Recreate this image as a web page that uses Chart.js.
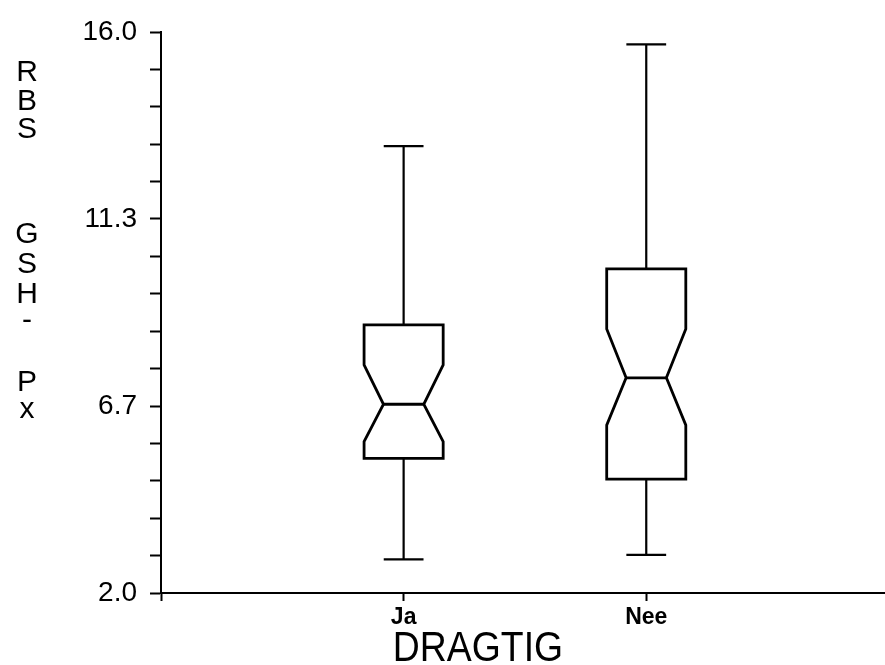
<!DOCTYPE html>
<html>
<head>
<meta charset="utf-8">
<script src="https://cdn.jsdelivr.net/npm/chart.js@4.4.1/dist/chart.umd.min.js"></script>
<style>
  html, body { margin: 0; padding: 0; background: #fff; }
  canvas { display: block; }
</style>
</head>
<body>
<canvas id="chart" width="885" height="665"></canvas>
<script>
//categories on the x axis
const categories = ['Ja', 'Nee'];

//box plot statistics (one value per category)
const whiskerHigh = [13.15, 15.69];
const q3 = [8.69, 10.09];
const notchHigh = [7.69, 8.59];
const median = [6.71, 7.37];
const notchLow = [5.78, 6.19];
const q1 = [5.36, 4.84];
const whiskerLow = [2.84, 2.95];

//y axis range and labelled ticks
const yMin = 2.0;
const yMax = 16.0;
const yLabels = ['2.0', '6.7', '11.3', '16.0'];
const minorPerLabel = 5;

//axis titles
const xTitle = 'DRAGTIG';
const yTitleLetters = ['R', 'B', 'S', 'G', 'S', 'H', '-', 'P', 'x'];

const FONT = "'Liberation Sans', Arial, Helvetica, sans-serif";

//draws notched boxes + whiskers through the chart scales
const boxPlugin = {
  id: 'notchedBoxes',
  afterDatasetsDraw(chart) {
    const ctx = chart.ctx;
    const xs = chart.scales.x;
    const ys = chart.scales.y;
    const boxHalf = 0.163;   //half box width in x units
    const notchHalf = 0.083; //half width at the median notch
    const capHalf = 0.082;   //half whisker cap width

    ctx.save();
    ctx.strokeStyle = '#000';
    ctx.lineJoin = 'miter';
    categories.forEach((cat, i) => {
      const L = xs.getPixelForValue(i - boxHalf);
      const R = xs.getPixelForValue(i + boxHalf);
      const Li = xs.getPixelForValue(i - notchHalf);
      const Ri = xs.getPixelForValue(i + notchHalf);
      const C = xs.getPixelForValue(i);
      const yQ3 = ys.getPixelForValue(q3[i]);
      const yQ1 = ys.getPixelForValue(q1[i]);
      const yNH = ys.getPixelForValue(notchHigh[i]);
      const yNL = ys.getPixelForValue(notchLow[i]);
      const yMed = ys.getPixelForValue(median[i]);
      const yHi = ys.getPixelForValue(whiskerHigh[i]);
      const yLo = ys.getPixelForValue(whiskerLow[i]);

      //whiskers
      ctx.lineWidth = 2.2;
      ctx.beginPath();
      ctx.moveTo(C, yQ3); ctx.lineTo(C, yHi);
      ctx.moveTo(C, yQ1); ctx.lineTo(C, yLo);
      ctx.moveTo(xs.getPixelForValue(i - capHalf), yHi);
      ctx.lineTo(xs.getPixelForValue(i + capHalf), yHi);
      ctx.moveTo(xs.getPixelForValue(i - capHalf), yLo);
      ctx.lineTo(xs.getPixelForValue(i + capHalf), yLo);
      ctx.stroke();

      //notched box outline
      ctx.lineWidth = 2.8;
      ctx.beginPath();
      ctx.moveTo(L, yQ3);
      ctx.lineTo(R, yQ3);
      ctx.lineTo(R, yNH);
      ctx.lineTo(Ri, yMed);
      ctx.lineTo(R, yNL);
      ctx.lineTo(R, yQ1);
      ctx.lineTo(L, yQ1);
      ctx.lineTo(L, yNL);
      ctx.lineTo(Li, yMed);
      ctx.lineTo(L, yNH);
      ctx.closePath();
      ctx.stroke();

      //median line
      ctx.beginPath();
      ctx.moveTo(Li, yMed);
      ctx.lineTo(Ri, yMed);
      ctx.stroke();
    });
    ctx.restore();
  },
  afterDraw(chart) {
    const ctx = chart.ctx;
    ctx.save();
    ctx.fillStyle = '#000';

    //stacked vertical y title
    const letterY = [70, 99, 127, 232, 262, 292, 320, 380, 410];
    ctx.font = `30px ${FONT}`;
    ctx.textAlign = 'center';
    ctx.textBaseline = 'alphabetic';
    yTitleLetters.forEach((ch, i) => {
      let base = letterY[i] + 11;
      if (ch === '-') base = letterY[i] + 9;
      if (ch === 'x') base = letterY[i] + 8;
      ctx.fillText(ch, 27, base);
    });

    //x title, slightly condensed like the original
    ctx.translate(478, 661);
    ctx.scale(0.89, 1);
    ctx.font = `42px ${FONT}`;
    ctx.fillText(xTitle, 0, 0);
    ctx.restore();
  }
};

const step = (yMax - yMin) / ((yLabels.length - 1) * minorPerLabel);

new Chart(document.getElementById('chart').getContext('2d'), {
  type: 'scatter',
  data: {
    datasets: [{
      data: categories.map((c, i) => ({ x: i, y: median[i] })),
      pointRadius: 0,
      showLine: false
    }]
  },
  options: {
    responsive: false,
    animation: false,
    layout: { padding: { left: 0, right: 0, top: 32, bottom: 0 } },
    plugins: {
      legend: { display: false },
      tooltip: { enabled: false }
    },
    scales: {
      x: {
        type: 'linear',
        min: -1,
        max: 1.984,
        afterBuildTicks: (scale) => {
          scale.ticks = [-1, 0, 1].map(v => ({ value: v }));
        },
        afterFit: (scale) => { scale.height = 72; },
        border: { display: true, color: '#000', width: 2 },
        grid: {
          display: true,
          drawOnChartArea: false,
          drawTicks: true,
          tickLength: 8,
          tickWidth: 2,
          color: '#000'
        },
        ticks: {
          autoSkip: false,
          maxRotation: 0,
          padding: 3,
          color: '#000',
          font: { family: FONT, size: 23, weight: 'bold' },
          callback: (v) => categories[v] !== undefined ? categories[v] : ''
        }
      },
      y: {
        type: 'linear',
        min: yMin,
        max: yMax,
        afterBuildTicks: (scale) => {
          const n = (yLabels.length - 1) * minorPerLabel;
          const t = [];
          for (let k = 0; k <= n; k++) t.push({ value: yMin + k * step });
          scale.ticks = t;
        },
        afterFit: (scale) => { scale.width = 161; },
        border: { display: true, color: '#000', width: 2 },
        grid: {
          display: true,
          drawOnChartArea: false,
          drawTicks: true,
          tickLength: 11,
          tickWidth: 2,
          color: '#000'
        },
        ticks: {
          autoSkip: false,
          padding: 13,
          color: '#000',
          font: { family: FONT, size: 28 },
          callback: function(value, index) {
            return index % minorPerLabel === 0 ? yLabels[index / minorPerLabel] : '';
          }
        }
      }
    }
  },
  plugins: [boxPlugin]
});
</script>
</body>
</html>
